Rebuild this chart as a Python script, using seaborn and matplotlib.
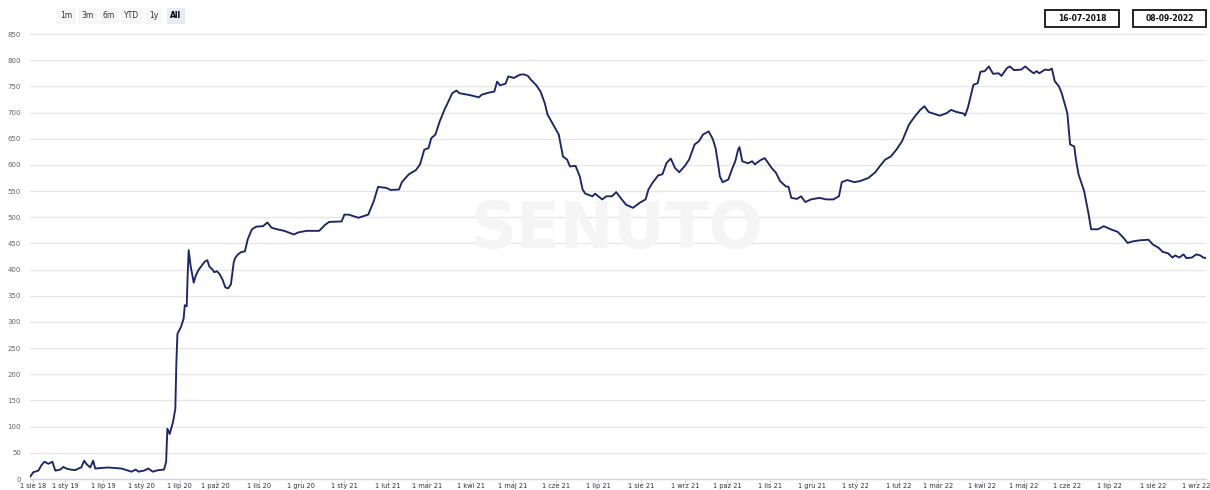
import numpy as np
import pandas as pd
import matplotlib
matplotlib.use("Agg")
import matplotlib.pyplot as plt
import matplotlib.dates as mdates
from matplotlib.patches import Rectangle
import seaborn as sns

# ---------------- data ----------------
dates_2018_2020 = [
    "2018-07-16", "2018-08-01", "2018-08-25", "2018-09-08", "2018-09-23", "2018-10-12",
    "2018-10-31", "2018-11-14", "2018-12-08", "2018-12-22", "2019-01-06", "2019-01-25",
    "2019-02-18", "2019-03-04", "2019-03-18", "2019-04-01", "2019-04-11", "2019-04-30",
    "2019-05-14", "2019-05-24", "2019-06-21", "2019-07-25", "2019-08-28", "2019-09-26",
    "2019-10-20", "2019-11-14", "2019-12-03", "2019-12-17", "2020-01-12", "2020-02-02",
    "2020-02-23", "2020-03-21", "2020-04-17", "2020-04-27", "2020-05-03", "2020-05-14",
    "2020-05-30", "2020-06-10", "2020-06-15", "2020-06-20", "2020-07-04", "2020-07-11",
    "2020-07-14", "2020-07-19", "2020-07-21", "2020-07-24", "2020-07-29", "2020-08-06",
    "2020-08-11", "2020-08-18", "2020-08-26", "2020-09-03", "2020-09-10", "2020-09-15",
    "2020-09-23", "2020-09-28", "2020-10-02", "2020-10-04", "2020-10-06", "2020-10-08",
    "2020-10-10", "2020-10-12", "2020-10-14", "2020-10-15", "2020-10-17", "2020-10-19",
    "2020-10-22", "2020-10-24", "2020-10-27", "2020-10-30", "2020-11-04", "2020-11-07",
    "2020-11-10", "2020-11-14", "2020-11-19", "2020-11-26", "2020-11-29", "2020-12-05",
    "2020-12-14", "2020-12-18", "2020-12-21", "2020-12-30",
]
values_2018_2020 = [
    4, 13, 16, 26, 33, 29,
    33, 16, 18, 23, 20, 18,
    17, 20, 22, 35, 29, 22,
    35, 20, 21, 22, 21, 20,
    17, 14, 18, 14, 16, 20,
    14, 17, 18, 33, 96, 86,
    109, 134, 223, 277, 290, 306,
    332, 330, 381, 437, 407, 375,
    388, 399, 407, 415, 418, 406,
    400, 395, 397, 391, 381, 366,
    364, 372, 414, 422, 429, 433,
    435, 458, 477, 482, 483, 490,
    480, 477, 474, 467, 471, 474,
    474, 485, 491, 492,
]

dates_2021 = [
    "2021-01-01", "2021-01-04", "2021-01-11", "2021-01-18", "2021-01-22", "2021-01-25",
    "2021-01-31", "2021-02-03", "2021-02-09", "2021-02-11", "2021-02-16", "2021-02-21",
    "2021-02-24", "2021-02-27", "2021-03-02", "2021-03-04", "2021-03-07", "2021-03-10",
    "2021-03-14", "2021-03-15", "2021-03-19", "2021-03-22", "2021-03-24", "2021-04-01",
    "2021-04-07", "2021-04-09", "2021-04-14", "2021-04-18", "2021-04-20", "2021-04-22",
    "2021-04-26", "2021-04-28", "2021-05-02", "2021-05-06", "2021-05-09", "2021-05-12",
    "2021-05-14", "2021-05-18", "2021-05-21", "2021-05-24", "2021-05-26", "2021-05-30",
    "2021-06-03", "2021-06-06", "2021-06-09", "2021-06-11", "2021-06-15", "2021-06-18",
    "2021-06-20", "2021-06-22", "2021-06-27", "2021-06-29", "2021-07-04", "2021-07-07",
    "2021-07-11", "2021-07-14", "2021-07-18", "2021-07-21", "2021-07-26", "2021-07-31",
    "2021-08-04", "2021-08-06", "2021-08-09", "2021-08-13", "2021-08-16", "2021-08-19",
    "2021-08-22", "2021-08-25", "2021-08-28", "2021-09-01", "2021-09-04", "2021-09-08",
    "2021-09-11", "2021-09-14", "2021-09-16", "2021-09-18", "2021-09-21", "2021-09-23",
    "2021-09-25", "2021-09-26", "2021-09-28", "2021-10-02", "2021-10-05", "2021-10-07",
    "2021-10-09", "2021-10-10", "2021-10-12", "2021-10-16", "2021-10-19", "2021-10-21",
    "2021-10-25", "2021-10-28", "2021-11-02", "2021-11-05", "2021-11-08", "2021-11-12",
    "2021-11-14", "2021-11-16", "2021-11-20", "2021-11-23", "2021-11-26", "2021-11-30",
    "2021-12-06", "2021-12-11", "2021-12-16", "2021-12-20", "2021-12-22", "2021-12-26",
    "2021-12-31",
]
values_2021 = [
    505, 505, 499, 505, 531, 558,
    556, 552, 553, 567, 582, 590,
    601, 629, 632, 651, 658, 683,
    709, 714, 737, 742, 737, 733,
    729, 734, 738, 740, 759, 752,
    755, 769, 766, 772, 773, 770,
    763, 752, 740, 718, 696, 677,
    658, 616, 610, 597, 598, 578,
    553, 545, 540, 545, 534, 540,
    540, 548, 534, 524, 518, 528,
    534, 553, 566, 580, 582, 604,
    612, 594, 586, 598, 610, 639,
    645, 658, 661, 664, 649, 631,
    597, 578, 567, 572, 594, 607,
    629, 634, 607, 603, 607, 601,
    609, 613, 594, 585, 569, 559,
    558, 537, 535, 540, 529, 534,
    537, 534, 534, 540, 567, 571,
    567,
]

dates_2022 = [
    "2022-01-04", "2022-01-10", "2022-01-15", "2022-01-18", "2022-01-22", "2022-01-26",
    "2022-01-30", "2022-02-03", "2022-02-08", "2022-02-12", "2022-02-16", "2022-02-19",
    "2022-02-22", "2022-03-02", "2022-03-07", "2022-03-10", "2022-03-14", "2022-03-19",
    "2022-03-20", "2022-03-22", "2022-03-26", "2022-03-29", "2022-03-31", "2022-04-03",
    "2022-04-06", "2022-04-09", "2022-04-13", "2022-04-15", "2022-04-19", "2022-04-21",
    "2022-04-24", "2022-04-29", "2022-05-02", "2022-05-05", "2022-05-08", "2022-05-10",
    "2022-05-12", "2022-05-16", "2022-05-19", "2022-05-21", "2022-05-23", "2022-05-26",
    "2022-05-28", "2022-06-01", "2022-06-03", "2022-06-06", "2022-06-07", "2022-06-09",
    "2022-06-13", "2022-06-16", "2022-06-18", "2022-06-23", "2022-06-27", "2022-07-01",
    "2022-07-07", "2022-07-11", "2022-07-14", "2022-07-18", "2022-07-23", "2022-07-29",
    "2022-08-01", "2022-08-05", "2022-08-08", "2022-08-12", "2022-08-15", "2022-08-17",
    "2022-08-20", "2022-08-23", "2022-08-25", "2022-08-29", "2022-09-01", "2022-09-04",
    "2022-09-06", "2022-09-08",
]
values_2022 = [
    569, 575, 586, 597, 610, 616,
    629, 645, 677, 692, 705, 712,
    701, 694, 699, 705, 701, 698,
    694, 709, 753, 756, 778, 779,
    788, 774, 775, 770, 785, 788,
    781, 782, 788, 781, 775, 779,
    775, 782, 781, 784, 760, 750,
    737, 699, 639, 635, 613, 582,
    550, 509, 477, 477, 483, 478,
    472, 461, 451, 454, 456, 457,
    448, 442, 434, 431, 423, 427,
    423, 429, 422, 423, 429, 427,
    423, 422,
]

tick_dates = [
    "2018-08-01", "2019-01-01", "2019-07-01", "2020-01-01", "2020-07-01", "2020-10-01",
    "2020-11-01", "2020-12-01", "2021-01-01", "2021-02-01", "2021-03-01", "2021-04-01",
    "2021-05-01", "2021-06-01", "2021-07-01", "2021-08-01", "2021-09-01", "2021-10-01",
    "2021-11-01", "2021-12-01", "2022-01-01", "2022-02-01", "2022-03-01", "2022-04-01",
    "2022-05-01", "2022-06-01", "2022-07-01", "2022-08-01", "2022-09-01",
]
pl_months = ["sty", "lut", "mar", "kwi", "maj", "cze", "lip", "sie", "wrz", "paź", "lis", "gru"]
y_ticks = list(range(0, 851, 50))
range_buttons = ["1m", "3m", "6m", "YTD", "1y", "All"]
date_from, date_to = "16-07-2018", "08-09-2022"

# ------------- ordinal-like axis (weekly data early, daily later) -------------
seg_bounds = ["2000-01-01", "2020-07-01", "2020-10-01", "2040-01-01"]
seg_steps = [6.7, 3.6, 1.0]

# ---------------- plot ----------------
sns.set_theme(style="white")
plt.rcParams["font.family"] = ["DejaVu Sans"]

df = pd.DataFrame({
    "date": pd.to_datetime(dates_2018_2020 + dates_2021 + dates_2022),
    "value": values_2018_2020 + values_2021 + values_2022,
})

W, H = 1210, 490
fig = plt.figure(figsize=(W / 100, H / 100), dpi=100)
fig.patch.set_facecolor("white")
ax_left, ax_right, ax_top, ax_bottom = 30, 1206, 34, 479
ax = fig.add_axes([ax_left / W, 1 - ax_bottom / H, (ax_right - ax_left) / W, (ax_bottom - ax_top) / H])

sns.lineplot(data=df, x="date", y="value", ax=ax, color="#1c2566", linewidth=1.35, zorder=3)

b = mdates.date2num(pd.to_datetime(seg_bounds))
pos = [0.0]
for i, s in enumerate(seg_steps):
    pos.append(pos[-1] + (b[i + 1] - b[i]) / s)
pos = np.array(pos)


def fwd(x):
    return np.interp(np.asarray(x, dtype=float), b, pos)


def inv(p):
    return np.interp(np.asarray(p, dtype=float), pos, b)


ax.set_xscale("function", functions=(fwd, inv))
ax.set_xlim(mdates.date2num(df["date"].min()), mdates.date2num(df["date"].max()))
ax.set_ylim(0, 850)

td = pd.to_datetime(tick_dates)
ax.set_xticks(mdates.date2num(td))
ax.set_xticklabels([f"1 {pl_months[d.month - 1]} {d.year % 100:02d}" for d in td],
                   va="center_baseline")
ax.set_yticks(y_ticks)
ax.set_yticklabels([str(v) for v in y_ticks])
ax.set_xlabel("")
ax.set_ylabel("")

ax.yaxis.grid(True, color="#e6e6e6", linewidth=0.9)
ax.xaxis.grid(False)
for s in ["top", "right", "left"]:
    ax.spines[s].set_visible(False)
ax.spines["bottom"].set_color("#ccd6eb")
ax.spines["bottom"].set_linewidth(1)
ax.tick_params(axis="x", length=3, width=0.8, color="#ccd6eb", labelsize=4.8,
               labelcolor="#333333", pad=1.6, bottom=True)
ax.tick_params(axis="y", length=0, labelsize=5, labelcolor="#666666", pad=6.5)

# watermark
ax.text(617 / W, 1 - 230 / H, "SENUTO", transform=fig.transFigure, ha="center", va="center",
        fontsize=46, fontweight="bold", color="#f5f5f5", zorder=1)

# range selector buttons
btn_x = [66, 88, 109, 132, 154, 176]
for lbl, bx in zip(range_buttons, btn_x):
    sel = lbl == "All"
    fig.text(bx / W, 1 - 16 / H, lbl, ha="center", va="center", fontsize=5.5,
             fontweight="bold" if sel else "normal", color="#000000" if sel else "#333333",
             bbox=dict(boxstyle="square,pad=0.45", fc="#e6ebf5" if sel else "#f7f7f7", ec="none"))

# date input boxes
for x0, x1, txt in [(1045, 1119, date_from), (1133, 1206, date_to)]:
    fig.add_artist(Rectangle((x0 / W, 1 - 27 / H), (x1 - x0) / W, 17 / H,
                             transform=fig.transFigure, fill=False, ec="#111111", lw=1.3))
    fig.text((x0 + x1) / 2 / W, 1 - 18.5 / H, txt, ha="center", va="center",
             fontsize=5.5, fontweight="bold", color="#111111")

fig.savefig("out.png", dpi=100)
